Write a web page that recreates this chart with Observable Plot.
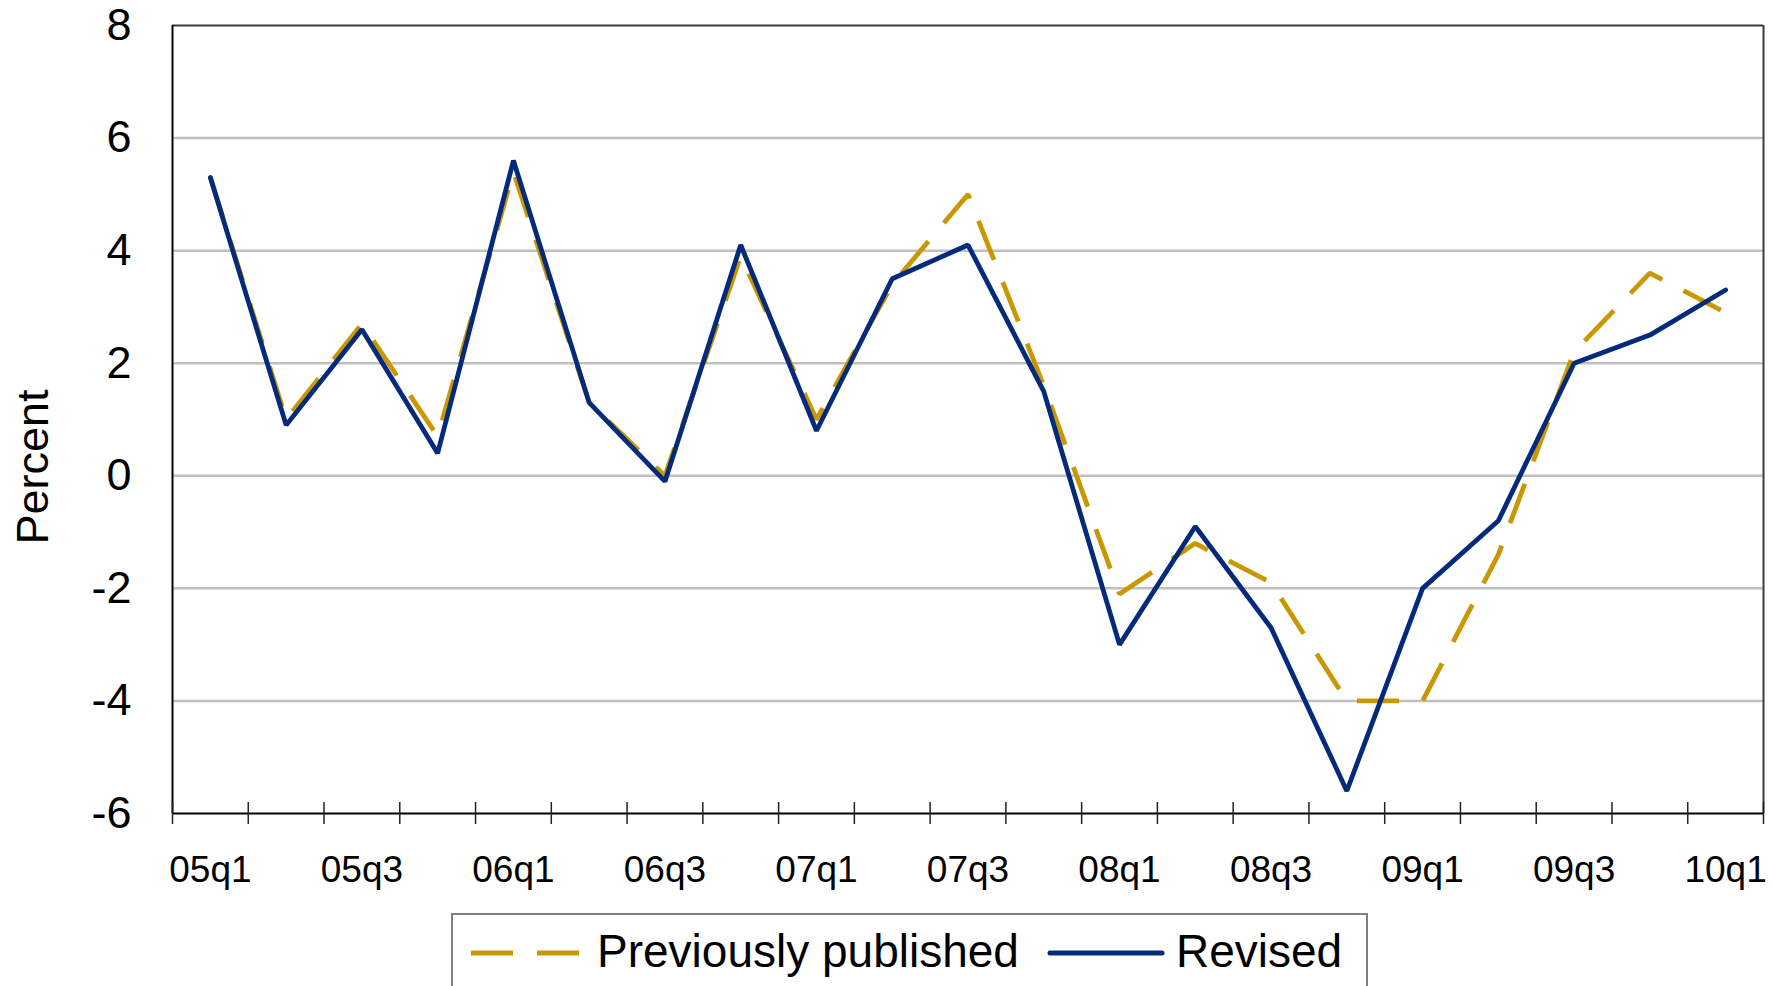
<!DOCTYPE html>
<html>
<head>
<meta charset="utf-8">
<script src="https://cdn.jsdelivr.net/npm/d3@7"></script>
<script src="https://cdn.jsdelivr.net/npm/@observablehq/plot@0.6"></script>
<style>
  html, body { margin: 0; padding: 0; background: #fff; overflow: hidden; }
  body { width: 1773px; height: 986px; position: relative; font-family: "Liberation Sans", Arial, sans-serif; }
  #chart { position: absolute; left: 0; top: 0; }
  #overlay { position: absolute; left: 0; top: 0; pointer-events: none; }
</style>
</head>
<body>
<div id="chart"></div>
<svg id="overlay" width="1773" height="986"></svg>
<script>
// ---- Data ----
const quarters = ["05q1","05q2","05q3","05q4","06q1","06q2","06q3","06q4",
                  "07q1","07q2","07q3","07q4","08q1","08q2","08q3","08q4",
                  "09q1","09q2","09q3","09q4","10q1"];
const previouslyPublished = [5.3, 1.0, 2.7, 0.7, 5.4, 1.3, 0.0, 3.9,
                             1.0, 3.4, 5.0, 1.6, -2.1, -1.2, -1.9, -4.0,
                             -4.0, -1.4, 2.2, 3.6, 2.9];
const revised = [5.3, 0.9, 2.6, 0.4, 5.6, 1.3, -0.1, 4.1,
                 0.8, 3.5, 4.1, 1.5, -3.0, -0.9, -2.7, -5.6,
                 -2.0, -0.8, 2.0, 2.5, 3.3];
const seriesNames = ["Previously published", "Revised"];
const yTicks = [-6, -4, -2, 0, 2, 4, 6, 8];
const xLabelQuarters = ["05q1","05q3","06q1","06q3","07q1","07q3","08q1","08q3","09q1","09q3","10q1"];
const yTitle = "Percent";

const GOLD = "#C99700";
const NAVY = "#042A7B";
const FONT = "'Liberation Sans', Arial, sans-serif";

// ---- Build tables ----
const prevRows = quarters.map((q, i) => ({pos: i + 0.5, value: previouslyPublished[i]}));
const revRows = quarters.map((q, i) => ({pos: i + 0.5, value: revised[i]}));
const boundaries = d3.range(0, quarters.length + 1);
const labelPositions = xLabelQuarters.map(q => quarters.indexOf(q) + 0.5);
const yMin = d3.min(yTicks), yMax = d3.max(yTicks);

const chart = Plot.plot({
  width: 1773,
  height: 910,
  marginLeft: 172,
  marginRight: 10,
  marginTop: 25,
  marginBottom: 97,
  style: {fontFamily: FONT, color: "#000", background: "#fff"},
  x: {type: "linear", domain: [0, quarters.length], axis: null},
  y: {type: "linear", domain: [yMin, yMax], axis: null},
  marks: [
    Plot.ruleY(yTicks.filter(t => t !== yMin && t !== yMax), {stroke: "#c0c0c0", strokeWidth: 2.5}),
    // frame: top and right
    Plot.ruleY([yMax], {stroke: "#3a3a3a", strokeWidth: 2}),
    Plot.ruleX([quarters.length], {stroke: "#3a3a3a", strokeWidth: 2}),
    // lines
    Plot.line(prevRows, {x: "pos", y: "value", stroke: GOLD, strokeWidth: 4.8,
      strokeDasharray: "42,24", strokeLinecap: "butt", strokeLinejoin: "miter"}),
    Plot.line(revRows, {x: "pos", y: "value", stroke: NAVY, strokeWidth: 4.8,
      strokeLinecap: "round", strokeLinejoin: "miter"}),
    // axes lines
    Plot.ruleX([0], {stroke: "#000", strokeWidth: 2}),
    Plot.ruleY([yMin], {stroke: "#000", strokeWidth: 2}),
    // category boundary ticks crossing the x axis
    Plot.ruleX(boundaries, {x: d => d, y1: yMin, y2: yMin, insetTop: -11, insetBottom: -11,
      stroke: "#222", strokeWidth: 1.5}),
    // x labels
    Plot.axisX(labelPositions, {tickSize: 0, tickPadding: 42, fontSize: 37,
      tickFormat: d => quarters[Math.floor(d)], label: null, fill: "#000"}),
    // y labels
    Plot.axisY(yTicks, {tickSize: 0, tickPadding: 41, fontSize: 45,
      tickFormat: d => String(d), label: null, fill: "#000"})
  ]
});
document.getElementById("chart").appendChild(chart);

// ---- Overlay: y-axis title and legend ----
const ov = d3.select("#overlay");
ov.append("text")
  .attr("transform", "translate(32,467) rotate(-90)")
  .attr("text-anchor", "middle").attr("dominant-baseline", "central")
  .attr("font-size", 45).attr("font-family", FONT).attr("fill", "#000")
  .text(yTitle);

ov.append("rect").attr("x", 452).attr("y", 914).attr("width", 915).attr("height", 120)
  .attr("fill", "#fff").attr("stroke", "#7f7f7f").attr("stroke-width", 2);
ov.append("line").attr("x1", 471).attr("x2", 580).attr("y1", 953).attr("y2", 953)
  .attr("stroke", GOLD).attr("stroke-width", 5).attr("stroke-dasharray", "42,24");
ov.append("text").attr("x", 597).attr("y", 967).text(seriesNames[0])
  .attr("font-size", 46).attr("fill", "#000").attr("font-family", FONT);
ov.append("line").attr("x1", 1050).attr("x2", 1162).attr("y1", 953).attr("y2", 953)
  .attr("stroke", NAVY).attr("stroke-width", 5).attr("stroke-linecap", "round");
ov.append("text").attr("x", 1176).attr("y", 967).text(seriesNames[1])
  .attr("font-size", 46).attr("fill", "#000").attr("font-family", FONT);
</script>
</body>
</html>
